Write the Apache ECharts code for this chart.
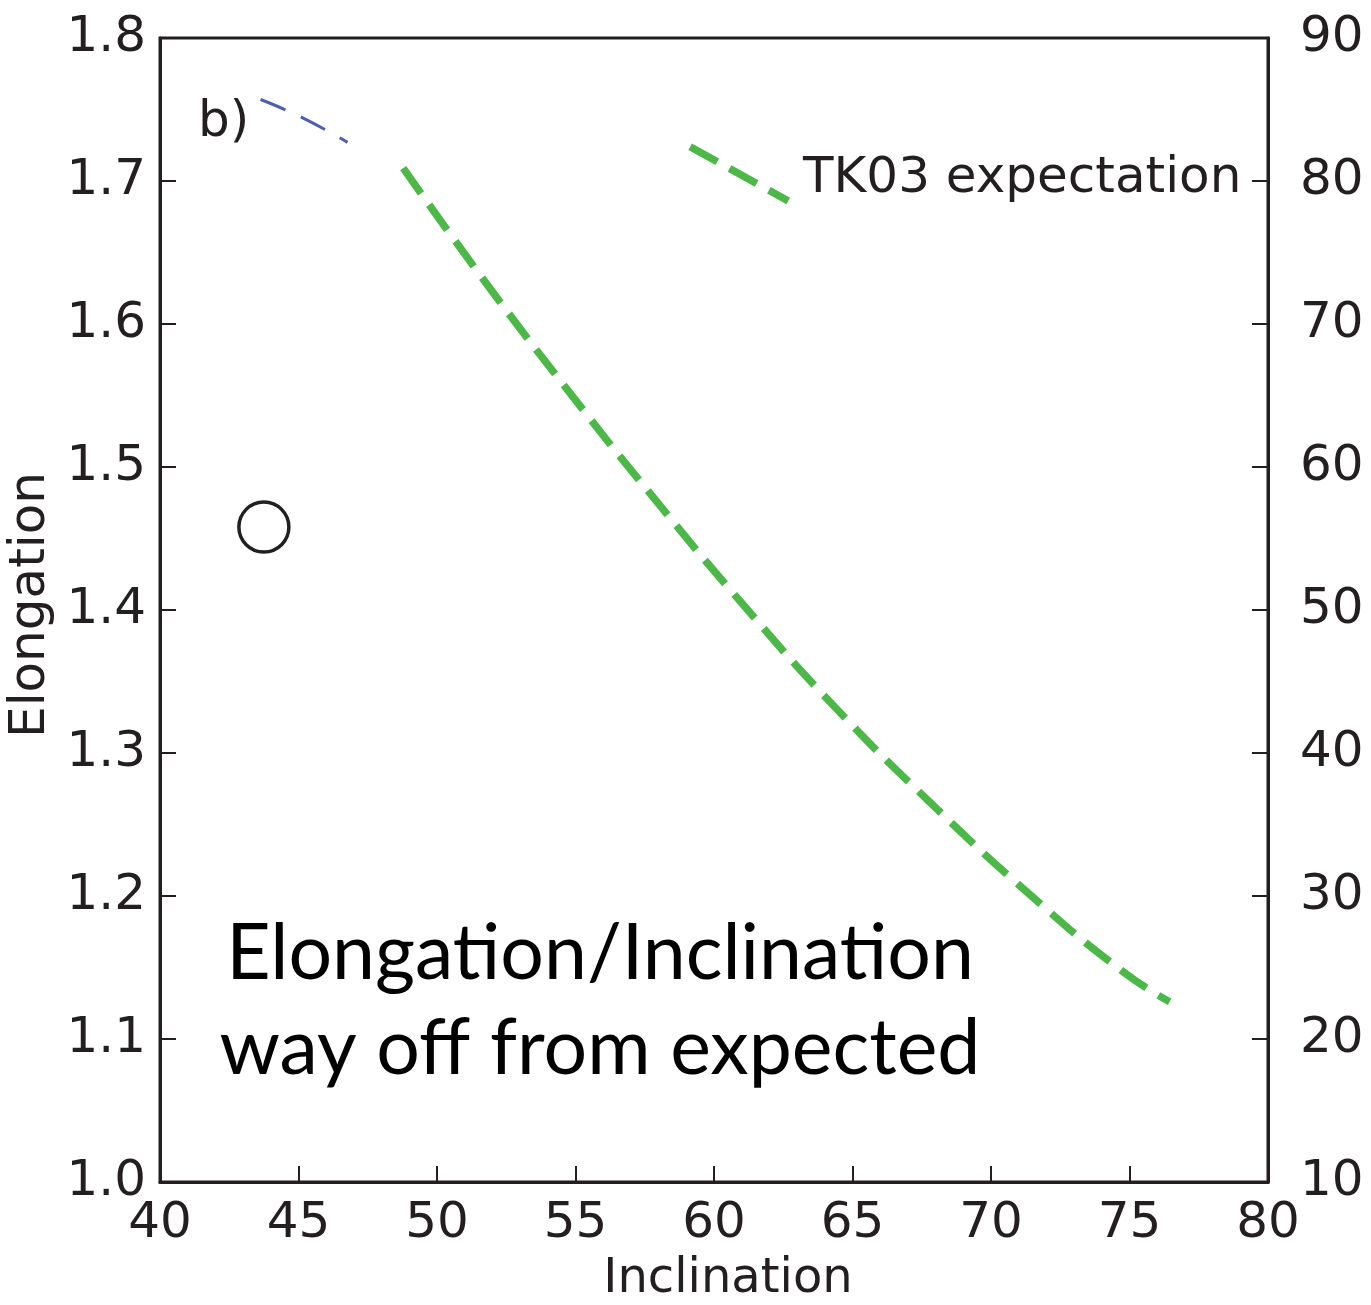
<!DOCTYPE html>
<html>
<head>
<meta charset="utf-8">
<script src="https://cdn.jsdelivr.net/npm/echarts@6/dist/echarts.min.js"></script>
<style>html,body{margin:0;padding:0;background:#fff}#c{width:1371px;height:1305px}</style>
</head>
<body>
<div id="c"></div>
<script>
// Data
const xTicks = [40, 45, 50, 55, 60, 65, 70, 75, 80];
const leftTicks = [1.0, 1.1, 1.2, 1.3, 1.4, 1.5, 1.6, 1.7, 1.8];
const rightTicks = [10, 20, 30, 40, 50, 60, 70, 80, 90];

const tkInc = [48.78, 51.68, 54.75, 57.84, 61.04, 64.37, 67.88, 71.58, 74.77, 76.45];
const tkElong = [1.709, 1.631, 1.553, 1.478, 1.404, 1.332, 1.264, 1.198, 1.147, 1.126];

const tkLegInc = [59.14, 62.68];
const tkLegElong = [1.724, 1.686];

const blueInc = [43.63, 45.17, 46.77];
const blueElong = [1.757, 1.744, 1.727];

const obsInc = [43.75];
const obsElong = [1.458];

const ink = '#231f20';
const tickFont = 'DejaVu Sans';

const chart = echarts.init(document.getElementById('c'), null, {renderer: 'canvas'});
const zip = (a, b) => a.map((v, i) => [v, b[i]]);

chart.setOption({
  animation: false,
  backgroundColor: '#fff',
  grid: {left: 160, right: 103, top: 38, bottom: 123, outerBoundsMode: 'none', containLabel: false,
         show: true, borderColor: ink, borderWidth: 3, backgroundColor: 'transparent'},
  xAxis: {
    type: 'value', min: xTicks[0], max: xTicks[xTicks.length - 1], interval: 5,
    name: 'Inclination', nameLocation: 'middle', nameGap: 74,
    nameTextStyle: {fontFamily: tickFont, fontSize: 48, color: ink, padding: [0, 0, 0, 28]},
    axisLine: {show: true, lineStyle: {color: ink, width: 3}},
    axisTick: {show: true, inside: true, length: 16, lineStyle: {color: ink, width: 2}},
    axisLabel: {fontFamily: tickFont, fontSize: 50, color: ink, margin: 17},
    splitLine: {show: false}
  },
  yAxis: [{
    type: 'value', min: leftTicks[0], max: leftTicks[leftTicks.length - 1], interval: 0.1,
    name: 'Elongation', nameLocation: 'middle', nameGap: 88, nameRotate: 90,
    nameTextStyle: {fontFamily: tickFont, fontSize: 50, color: ink, padding: [0, 0, 0, 10]},
    axisLine: {show: true, lineStyle: {color: ink, width: 3}},
    axisTick: {show: true, inside: true, length: 16, lineStyle: {color: ink, width: 2}},
    axisLabel: {fontFamily: tickFont, fontSize: 50, color: ink, margin: 14, formatter: v => v.toFixed(1), padding: [5, 0, 0, 0]},
    splitLine: {show: false}
  }, {
    type: 'value', position: 'right', min: rightTicks[0], max: rightTicks[rightTicks.length - 1], interval: 10,
    axisLine: {show: true, lineStyle: {color: ink, width: 3}},
    axisTick: {show: true, inside: true, length: 16, lineStyle: {color: ink, width: 2}},
    axisLabel: {fontFamily: tickFont, fontSize: 50, color: ink, margin: 32, padding: [5, 0, 0, 0]},
    splitLine: {show: false}
  }],
  series: [
    {type: 'line', data: zip(tkInc, tkElong), smooth: true, showSymbol: false, symbol: 'none',
     lineStyle: {color: '#4cb848', width: 7.5, type: [31, 14]}},
    {type: 'line', data: zip(tkLegInc, tkLegElong), showSymbol: false, symbol: 'none',
     lineStyle: {color: '#4cb848', width: 7.5, type: [31, 14]}},
    {type: 'line', data: zip(blueInc, blueElong), smooth: true, showSymbol: false, symbol: 'none',
     lineStyle: {color: '#4c5fb3', width: 3, type: [27, 17]}},
    {type: 'scatter', data: zip(obsInc, obsElong), symbol: 'circle', symbolSize: 50,
     itemStyle: {color: 'rgba(255,255,255,0)', borderColor: ink, borderWidth: 3.5, opacity: 1}}
  ],
  graphic: [
    {type: 'text', left: 198, top: 98, style: {text: 'b)', font: '50px "DejaVu Sans"', fill: ink}},
    {type: 'text', left: 803, top: 154, style: {text: 'TK03 expectation', font: '50px "DejaVu Sans"', fill: ink}},
    {type: 'text', x: 600, y: 1002, style: {text: 'Elongation/Inclination\nway off from expected', font: '77px Lato', fill: '#000', align: 'center', verticalAlign: 'middle', lineHeight: 95}}
  ]
});
</script>
</body>
</html>
